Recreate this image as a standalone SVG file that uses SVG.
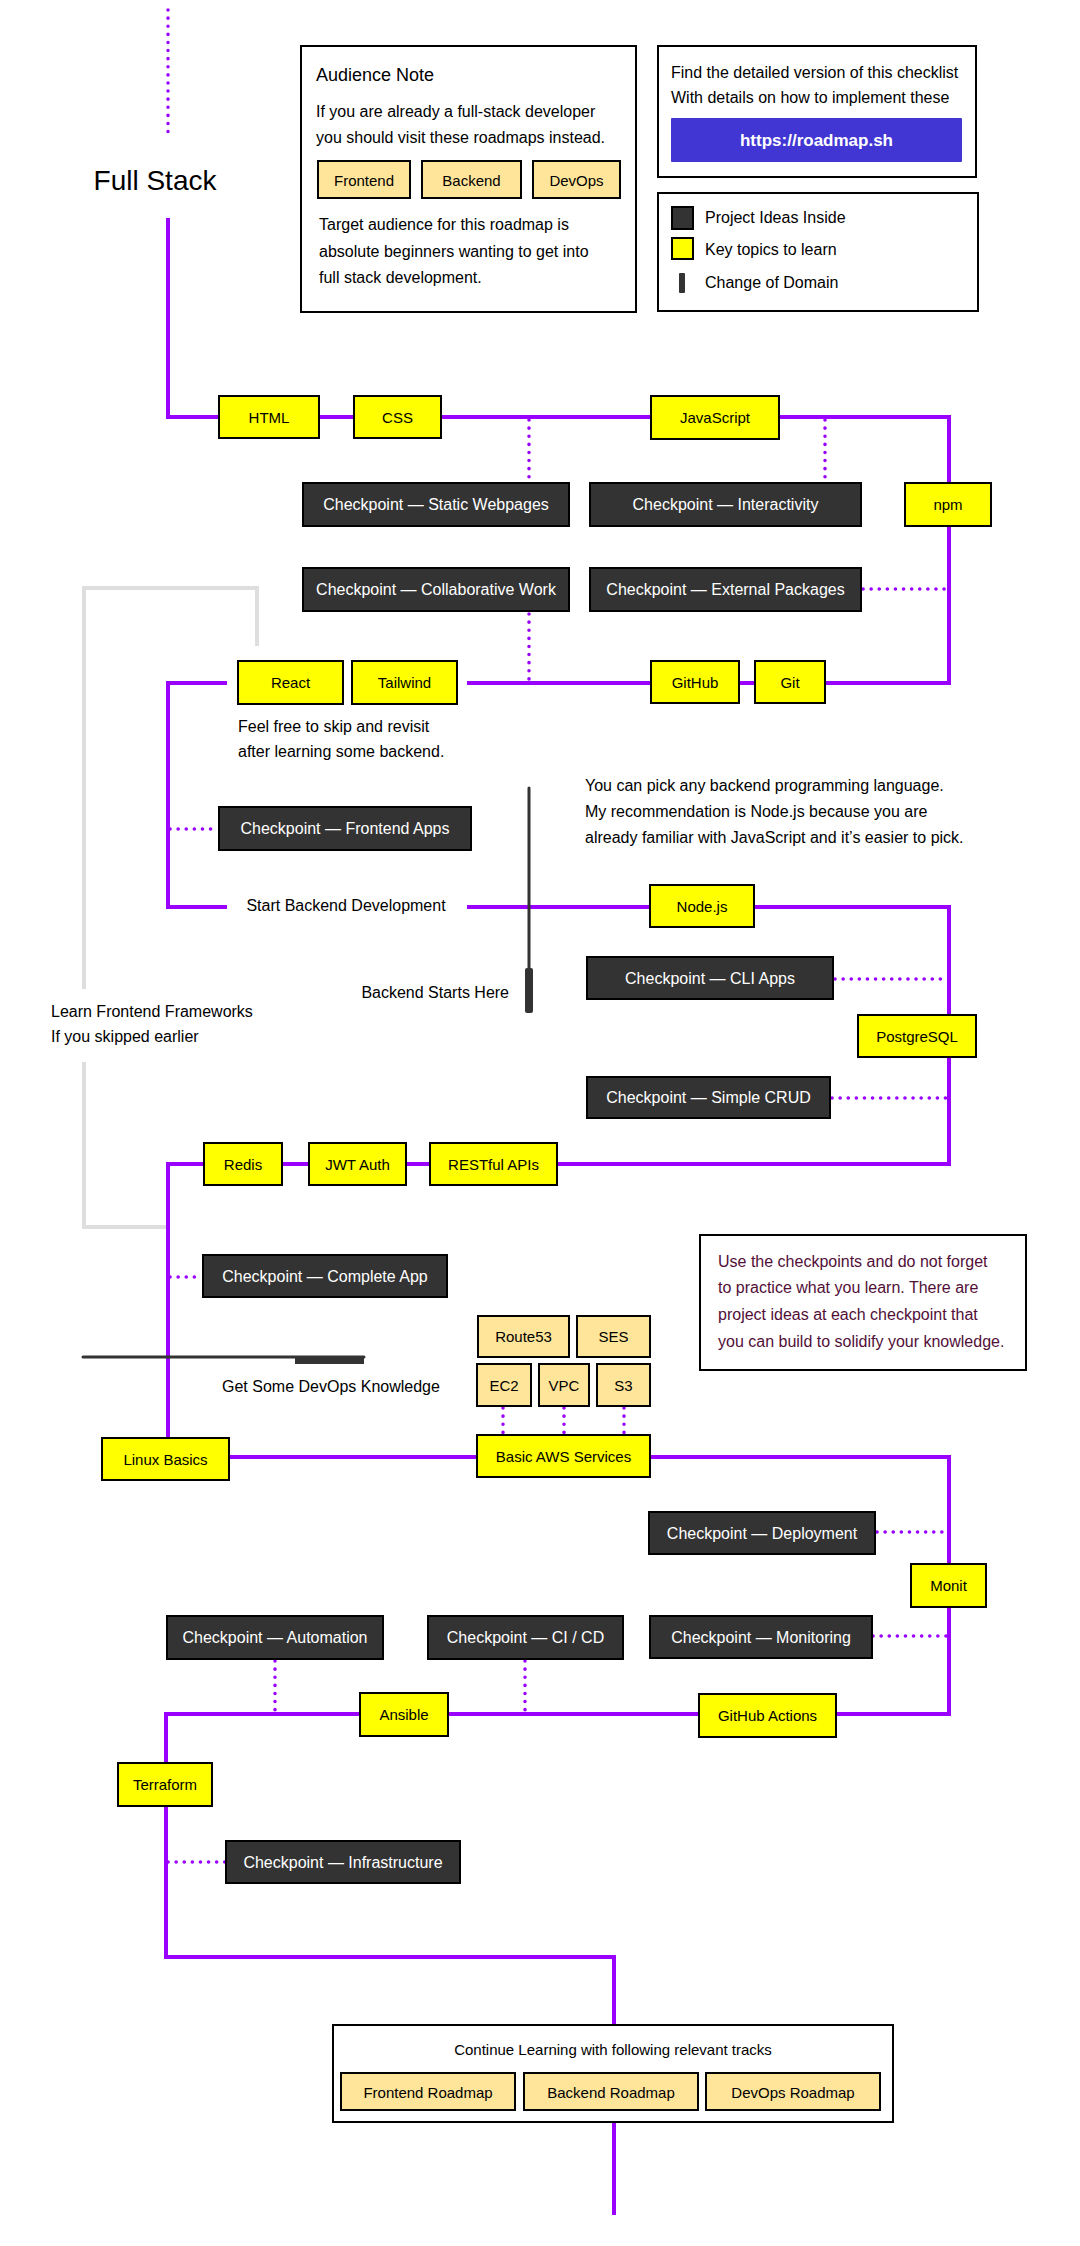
<svg xmlns="http://www.w3.org/2000/svg" width="1080" height="2246" viewBox="0 0 1080 2246">
<style>
text{font-family:"Liberation Sans",Arial,sans-serif;fill:#000}
.y rect{fill:#ffff00;stroke:#000;stroke-width:2}
.l rect{fill:#ffe599;stroke:#000;stroke-width:2}
.d rect{fill:#333;stroke:#000;stroke-width:2}
.y text,.l text{font-size:15px;text-anchor:middle;dominant-baseline:central}
.d text{font-size:16px;text-anchor:middle;dominant-baseline:central;fill:#fff}
.pl{fill:none;stroke:#9900ff;stroke-width:4}
.dot{fill:none;stroke:#9900ff;stroke-width:3.5;stroke-linecap:round;stroke-dasharray:0.1 8}
.gr{fill:none;stroke:#dedede;stroke-width:4}
.box{fill:#fff;stroke:#000;stroke-width:2}
.t{font-size:16px}
.n{font-size:16px;fill:#520f38}
</style>
<rect width="1080" height="2246" fill="#fff"/>
<g id="connectors">
<path class="gr" d="M257 646 V588 H84 V989"/>
<path class="gr" d="M84 1062 V1227 H166"/>
<path class="pl" d="M168 218 V417 H949 V683 H467"/>
<path class="pl" d="M227 683 H168 V907 H227"/>
<path class="pl" d="M467 907 H949 V1164 H168 V1457"/>
<path class="pl" d="M229 1457 H949 V1714 H166 V1957 H614 V2025"/>
<path class="pl" d="M614 2122 V2215"/>
<path class="dot" d="M168 10 V139"/>
<path class="dot" d="M529 420 V481"/>
<path class="dot" d="M825 420 V481"/>
<path class="dot" d="M863 589 H947"/>
<path class="dot" d="M529 614 V681"/>
<path class="dot" d="M170 829 H217"/>
<path class="dot" d="M835 979 H947"/>
<path class="dot" d="M832 1098 H947"/>
<path class="dot" d="M170 1277 H202"/>
<path class="dot" d="M503 1408 V1434"/>
<path class="dot" d="M564 1408 V1434"/>
<path class="dot" d="M624 1408 V1434"/>
<path class="dot" d="M877 1532 H947"/>
<path class="dot" d="M873 1636 H947"/>
<path class="dot" d="M275 1661 V1712"/>
<path class="dot" d="M525 1661 V1712"/>
<path class="dot" d="M168 1862 H225"/>
</g>
<g id="domain-backend">
<path d="M529 788 V968" stroke="#333" stroke-width="3" fill="none" stroke-linecap="round"/>
<rect x="525" y="968" width="8" height="45" rx="2" fill="#333"/>
</g>
<g id="domain-devops">
<path d="M83 1357 H364" stroke="#333" stroke-width="3" fill="none" stroke-linecap="round"/>
<rect x="295" y="1357" width="69" height="7" fill="#333"/>
</g>
<g id="title"><text x="155" y="190" font-size="28" text-anchor="middle">Full Stack</text></g>
<g id="audience-note">
<rect class="box" x="301" y="46" width="335" height="266"/>
<text x="316" y="81" font-size="18">Audience Note</text>
<text class="t" x="316" y="117">If you are already a full-stack developer</text>
<text class="t" x="316" y="143">you should visit these roadmaps instead.</text>
<g class="l"><rect x="318" y="161" width="92" height="37"/><text x="364" y="180">Frontend</text></g>
<g class="l"><rect x="422" y="161" width="99" height="37"/><text x="471.5" y="180">Backend</text></g>
<g class="l"><rect x="533" y="161" width="87" height="37"/><text x="576.5" y="180">DevOps</text></g>
<text class="t" x="319" y="230">Target audience for this roadmap is</text>
<text class="t" x="319" y="257">absolute beginners wanting to get into</text>
<text class="t" x="319" y="283">full stack development.</text>
</g>
<g id="link-box">
<rect class="box" x="658" y="46" width="318" height="131"/>
<text class="t" x="671" y="78">Find the detailed version of this checklist</text>
<text class="t" x="671" y="103">With details on how to implement these</text>
<rect x="671" y="118" width="291" height="44" rx="1" fill="#4136d4"/>
<text x="816.5" y="140" font-size="17" font-weight="bold" text-anchor="middle" dominant-baseline="central" style="fill:#fff">https://roadmap.sh</text>
</g>
<g id="legend">
<rect class="box" x="658" y="193" width="320" height="118"/>
<rect x="672" y="207" width="21" height="22" fill="#333" stroke="#000" stroke-width="2"/>
<rect x="672" y="238" width="21" height="21" fill="#ffff00" stroke="#000" stroke-width="2"/>
<rect x="679" y="273" width="6" height="20" rx="1" fill="#333"/>
<text class="t" x="705" y="223">Project Ideas Inside</text>
<text class="t" x="705" y="255">Key topics to learn</text>
<text class="t" x="705" y="288">Change of Domain</text>
</g>
<g id="html" class="y"><rect x="219" y="396" width="100" height="42"/><text x="269" y="417">HTML</text></g>
<g id="css" class="y"><rect x="354" y="396" width="87" height="42"/><text x="397.5" y="417">CSS</text></g>
<g id="javascript" class="y"><rect x="651" y="396" width="128" height="43"/><text x="715" y="417.5">JavaScript</text></g>
<g id="npm" class="y"><rect x="905" y="483" width="86" height="43"/><text x="948" y="504.5">npm</text></g>
<g id="cp-static" class="d"><rect x="303" y="483" width="266" height="43"/><text x="436" y="504.5">Checkpoint — Static Webpages</text></g>
<g id="cp-interactivity" class="d"><rect x="590" y="483" width="271" height="43"/><text x="725.5" y="504.5">Checkpoint — Interactivity</text></g>
<g id="cp-collab" class="d"><rect x="303" y="568" width="266" height="43"/><text x="436" y="589.5">Checkpoint — Collaborative Work</text></g>
<g id="cp-packages" class="d"><rect x="590" y="568" width="271" height="43"/><text x="725.5" y="589.5">Checkpoint — External Packages</text></g>
<g id="react" class="y"><rect x="238" y="661" width="105" height="43"/><text x="290.5" y="682.5">React</text></g>
<g id="tailwind" class="y"><rect x="352" y="661" width="105" height="43"/><text x="404.5" y="682.5">Tailwind</text></g>
<g id="github" class="y"><rect x="651" y="661" width="88" height="42"/><text x="695" y="682">GitHub</text></g>
<g id="git" class="y"><rect x="755" y="661" width="70" height="42"/><text x="790" y="682">Git</text></g>
<g id="skip-note">
<text class="t" x="238" y="732">Feel free to skip and revisit</text>
<text class="t" x="238" y="757">after learning some backend.</text>
</g>
<g id="cp-frontend" class="d"><rect x="219" y="807" width="252" height="43"/><text x="345" y="828.5">Checkpoint — Frontend Apps</text></g>
<g id="start-backend"><text class="t" x="346" y="911" text-anchor="middle">Start Backend Development</text></g>
<g id="backend-note">
<text class="t" x="585" y="791">You can pick any backend programming language.</text>
<text class="t" x="585" y="817">My recommendation is Node.js because you are</text>
<text class="t" x="585" y="843">already familiar with JavaScript and it’s easier to pick.</text>
</g>
<g id="backend-starts"><text class="t" x="509" y="998" text-anchor="end">Backend Starts Here</text></g>
<g id="learn-frontend">
<text class="t" x="51" y="1017">Learn Frontend Frameworks</text>
<text class="t" x="51" y="1042">If you skipped earlier</text>
</g>
<g id="nodejs" class="y"><rect x="650" y="885" width="104" height="42"/><text x="702" y="906">Node.js</text></g>
<g id="cp-cli" class="d"><rect x="587" y="957" width="246" height="42"/><text x="710" y="978">Checkpoint — CLI Apps</text></g>
<g id="postgresql" class="y"><rect x="858" y="1015" width="118" height="42"/><text x="917" y="1036">PostgreSQL</text></g>
<g id="cp-crud" class="d"><rect x="587" y="1077" width="243" height="41"/><text x="708.5" y="1097.5">Checkpoint — Simple CRUD</text></g>
<g id="redis" class="y"><rect x="204" y="1143" width="78" height="42"/><text x="243" y="1164">Redis</text></g>
<g id="jwt" class="y"><rect x="309" y="1143" width="97" height="42"/><text x="357.5" y="1164">JWT Auth</text></g>
<g id="restful" class="y"><rect x="430" y="1143" width="127" height="42"/><text x="493.5" y="1164">RESTful APIs</text></g>
<g id="cp-complete" class="d"><rect x="203" y="1255" width="244" height="42"/><text x="325" y="1276">Checkpoint — Complete App</text></g>
<g id="practice-note">
<rect class="box" x="700" y="1235" width="326" height="135"/>
<text class="n" x="718" y="1267">Use the checkpoints and do not forget</text>
<text class="n" x="718" y="1293">to practice what you learn. There are</text>
<text class="n" x="718" y="1320">project ideas at each checkpoint that</text>
<text class="n" x="718" y="1347">you can build to solidify your knowledge.</text>
</g>
<g id="devops-label"><text class="t" x="222" y="1392">Get Some DevOps Knowledge</text></g>
<g id="route53" class="l"><rect x="478" y="1316" width="91" height="41"/><text x="523.5" y="1336.5">Route53</text></g>
<g id="ses" class="l"><rect x="577" y="1316" width="73" height="41"/><text x="613.5" y="1336.5">SES</text></g>
<g id="ec2" class="l"><rect x="477" y="1364" width="54" height="42"/><text x="504" y="1385">EC2</text></g>
<g id="vpc" class="l"><rect x="539" y="1364" width="50" height="42"/><text x="564" y="1385">VPC</text></g>
<g id="s3" class="l"><rect x="597" y="1364" width="53" height="42"/><text x="623.5" y="1385">S3</text></g>
<g id="linux" class="y"><rect x="102" y="1438" width="127" height="42"/><text x="165.5" y="1459">Linux Basics</text></g>
<g id="aws" class="y"><rect x="477" y="1435" width="173" height="42"/><text x="563.5" y="1456">Basic AWS Services</text></g>
<g id="cp-deployment" class="d"><rect x="649" y="1512" width="226" height="42"/><text x="762" y="1533">Checkpoint — Deployment</text></g>
<g id="monit" class="y"><rect x="911" y="1564" width="75" height="43"/><text x="948.5" y="1585.5">Monit</text></g>
<g id="cp-automation" class="d"><rect x="167" y="1616" width="216" height="43"/><text x="275" y="1637.5">Checkpoint — Automation</text></g>
<g id="cp-cicd" class="d"><rect x="428" y="1616" width="195" height="43"/><text x="525.5" y="1637.5">Checkpoint — CI / CD</text></g>
<g id="cp-monitoring" class="d"><rect x="650" y="1616" width="222" height="42"/><text x="761" y="1637">Checkpoint — Monitoring</text></g>
<g id="ansible" class="y"><rect x="360" y="1693" width="88" height="43"/><text x="404" y="1714.5">Ansible</text></g>
<g id="github-actions" class="y"><rect x="699" y="1694" width="137" height="43"/><text x="767.5" y="1715.5">GitHub Actions</text></g>
<g id="terraform" class="y"><rect x="118" y="1763" width="94" height="43"/><text x="165" y="1784.5">Terraform</text></g>
<g id="cp-infra" class="d"><rect x="226" y="1841" width="234" height="42"/><text x="343" y="1862">Checkpoint — Infrastructure</text></g>
<g id="continue">
<rect class="box" x="333" y="2025" width="560" height="97"/>
<text x="613" y="2055" font-size="15" text-anchor="middle">Continue Learning with following relevant tracks</text>
<g class="l"><rect x="341" y="2073" width="174" height="37"/><text x="428" y="2092">Frontend Roadmap</text></g>
<g class="l"><rect x="524" y="2073" width="174" height="37"/><text x="611" y="2092">Backend Roadmap</text></g>
<g class="l"><rect x="706" y="2073" width="174" height="37"/><text x="793" y="2092">DevOps Roadmap</text></g>
</g>
</svg>
